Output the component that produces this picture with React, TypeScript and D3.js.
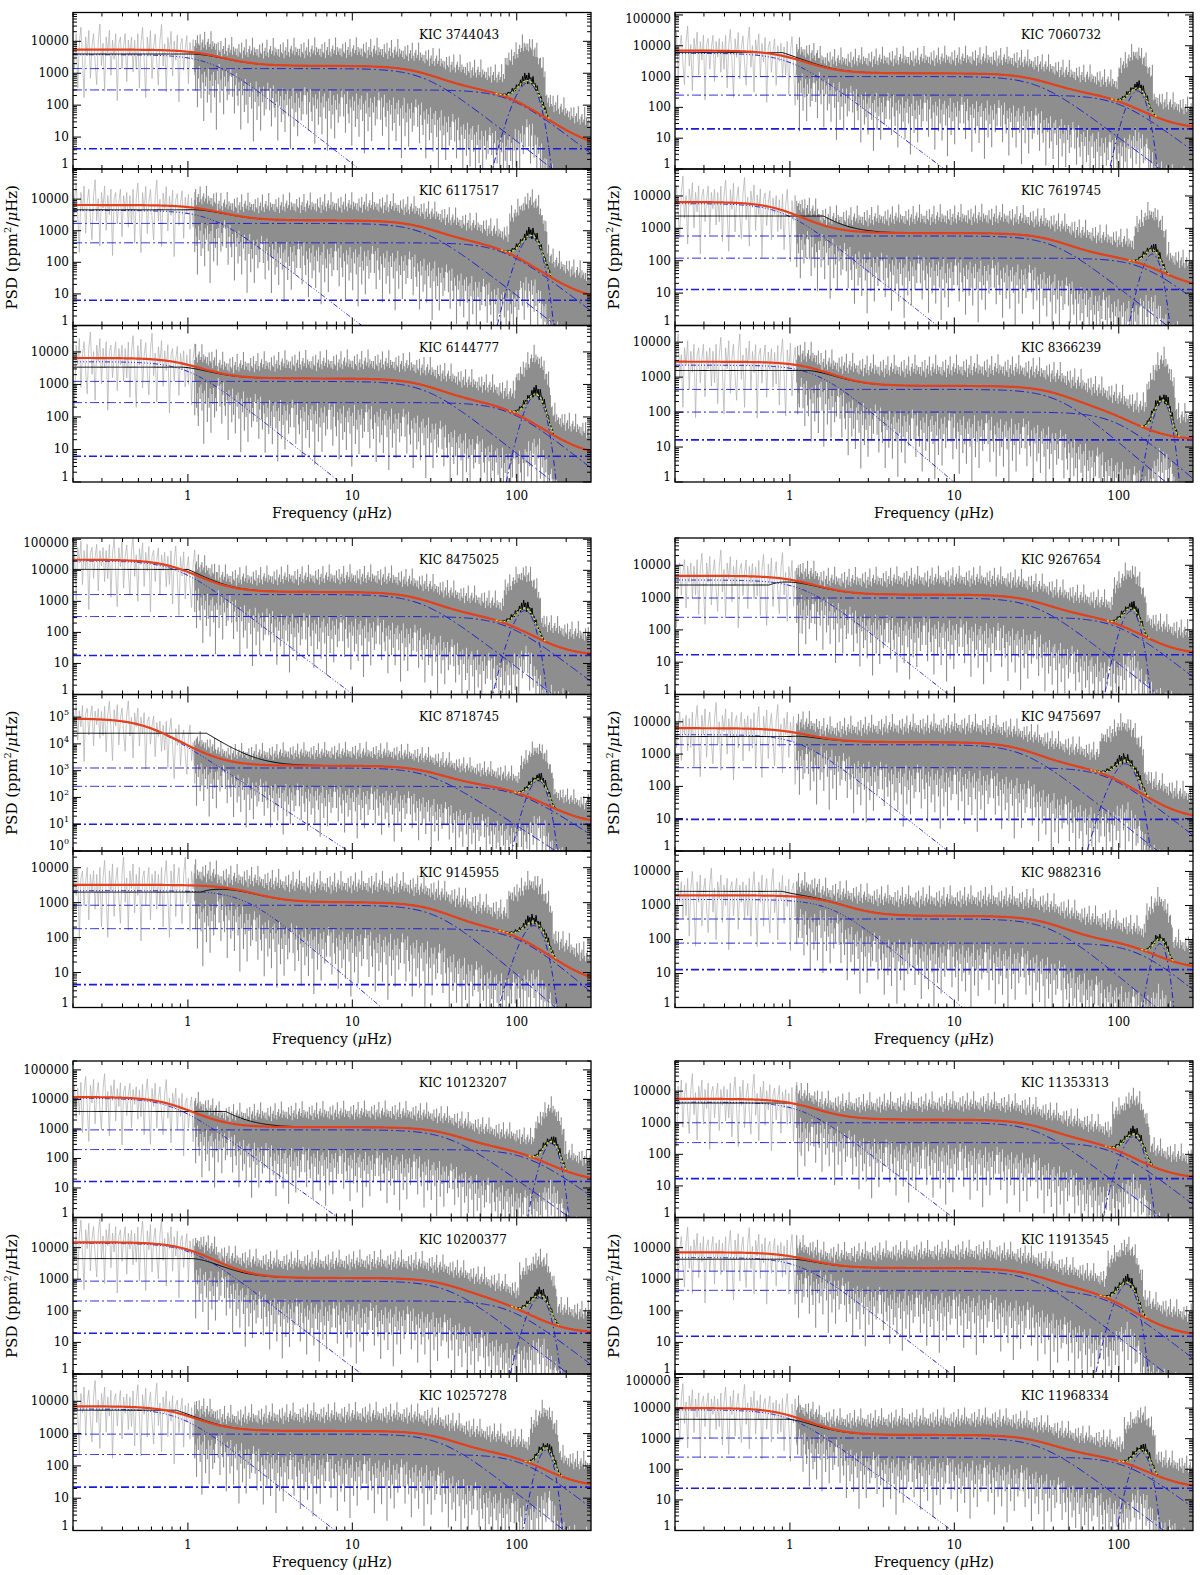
import React from 'react'
import * as d3 from 'd3'

// panel order: group by group, left column top->bottom then right column top->bottom
const kicIds = [
  'KIC 3744043', 'KIC 6117517', 'KIC 6144777', 'KIC 7060732', 'KIC 7619745', 'KIC 8366239',
  'KIC 8475025', 'KIC 8718745', 'KIC 9145955', 'KIC 9267654', 'KIC 9475697', 'KIC 9882316',
  'KIC 10123207', 'KIC 10200377', 'KIC 10257278', 'KIC 11353313', 'KIC 11913545', 'KIC 11968334',
]
const psdMax = [8e4, 9e4, 6.5e4, 1.2e5, 6.8e4, 3e4, 1.1e5, 7e5, 3e4, 7e4, 7e4, 4e4, 2e5, 9e4, 7e4, 9e4, 9e4, 1.3e5]

// fitted background components
const whiteNoise = [4.3, 6.3, 6.2, 20, 13, 16, 18, 10, 4.5, 17, 9.5, 13, 16.5, 19.5, 22, 17, 15.6, 24]
const lowAmp = [3800, 4400, 5000, 5700, 5800, 2200, 20000, 87000, 2200, 3500, 4000, 1500, 10900, 13700, 5800, 4450, 4840, 8700]
const lowFreq = [1.4, 1.4, 1.0, 1.0, 0.9, 1.45, 0.85, 0.55, 2.2, 1.2, 1.15, 1.8, 0.8, 1.05, 0.9, 1.2, 1.15, 1.0]
const granAmp = [1400, 1700, 1240, 1000, 580, 445, 1660, 1260, 840, 970, 1950, 400, 930, 870, 960, 1000, 1800, 1050]
const granFreq = [27, 27, 28, 32, 40, 42, 26, 29, 32, 31, 26, 38, 38, 38, 35, 32, 30, 33]
const fastAmp = [300, 415, 277, 250, 120, 100, 325, 260, 180, 245, 380, 78, 200, 205, 225, 235, 445, 250]
const fastFreq = [90, 82, 89, 100, 140, 95, 85, 100, 100, 98, 85, 130, 115, 89, 110, 92, 82, 110]
const modeHeight = [500, 630, 450, 340, 160, 200, 500, 420, 220, 380, 500, 75, 320, 260, 300, 360, 680, 350]
const numax = [117, 122, 130, 130, 160, 185, 112, 135, 127, 119, 110, 178, 162, 138, 150, 123, 112, 138]
const modeWidth = [13, 12.8, 12.5, 12.3, 14, 15, 11.5, 12, 15, 10.7, 13, 13, 13.4, 14, 12, 12.5, 11, 12]

// smoothed (black) spectrum: flat level at low frequency up to an edge
const blackLevel = [4000, 4600, 3400, 6000, 2400, 1550, 10700, 25000, 2000, 2450, 3500, 2600, 3900, 4500, 5300, 4200, 4300, 4300]
const blackEdge = [1.0, 1.0, 0.9, 0.9, 1.6, 1.3, 1.0, 1.3, 1.2, 0.75, 1.0, 0.9, 1.7, 1.05, 0.85, 1.0, 0.9, 1.0]
const modeJag = [1.0, 1.5, 0.8, 1.7, 0.9, 2.0, 1.1, 1.6, 0.75, 1.9, 1.2, 1.4, 0.85, 1.8, 1.0, 1.3, 0.8, 1.5, 0.95, 1.2]

// raw (grey) spectrum envelope, in dex relative to the full fit
const bandFreqs = [1.5, 2.5, 4, 10, 30, 80, 283]
const bandUpper = [0.0, 0.15, 0.22, 0.25, 0.28, 0.3, 0.35]
const bandLower = [-0.1, -0.45, -0.6, -0.7, -0.85, -1.1, -1.3]
const spikeDepth = [0.3, 0.9, 0.2, 1.4, 0.5, 0.1, 0.8, 1.1, 0.35, 0.6, 1.8, 0.25, 0.7, 0.4, 1.2, 0.15, 0.95, 0.5, 1.5, 0.3,
  0.65, 0.2, 1.0, 0.45, 2.0, 0.35, 0.75, 0.1, 1.3, 0.55, 0.85, 0.25, 1.6, 0.4, 0.7, 0.2, 1.1, 0.5, 0.9, 0.3, 0.05]
const spikeRise = [0.1, 0.3, 0.05, 0.45, 0.2, 0.15, 0.5, 0.0, 0.25, 0.35, 0.1, 0.6, 0.2, 0.05, 0.3, 0.4, 0.15, 0.25, 0.65, 0.1, 0.35, 0.2, 0.3]
const lowDex = [0.3, -0.6, 0.5, -1.2, 0.2, 0.7, -0.3, -1.5, 0.4, -0.2, 0.6, -0.9, 0.1, 0.5, -0.4, -1.1, 0.3, 0.8, -0.5, 0.2,
  -1.3, 0.4, -0.1, 0.6, -0.8, 0.3, -0.3, 0.5, -1.6, 0.2, 0.4, -0.6, 0.1, 0.5, -1.0, 0.3, -0.2, 0.4, -0.7]

const xTickLabels = ['1', '10', '100']

const FMIN = 0.2
const FMAX = 283
const PW = 518
const PH = 156.5
const colLefts = [73, 675]
const groupTops = [12.5, 538, 1061]
const expLabelPanels = [7]

const BLUE = '#1c1cd8'
const GREY = '#969696'

const harvey = (a: number, fc: number, f: number) => a / (1 + Math.pow(f / fc, 4))

const freqGrid = d3.range(0, 501).map(i => FMIN * Math.pow(FMAX / FMIN, i / 500))
const denseGrid = d3.range(0, 151).map(i => 1.5 * Math.pow(FMAX / 1.5, i / 150))
const spikeGrid = d3.range(0, 440).map(i => 1.1 * Math.pow(FMAX / 1.1, i / 439))
const lowGrid = d3.range(0, 80).map(i => FMIN * Math.pow(1.15 / FMIN, i / 79))

function Panel({ p, x0, y0, showX }: { p: number; x0: number; y0: number; showX: boolean }) {
  const xs = d3.scaleLog().domain([FMIN, FMAX]).range([x0, x0 + PW])
  const ys = d3.scaleLog().domain([1, psdMax[p]]).range([y0 + PH, y0])
  const yy = (v: number) => ys(Math.max(v, 1e-3))
  const upAt = d3.scaleLog().domain(bandFreqs).range(bandUpper).clamp(true)
  const lowAt = d3.scaleLog().domain(bandFreqs).range(bandLower).clamp(true)

  const low = (f: number) => harvey(lowAmp[p], lowFreq[p], f)
  const gran = (f: number) => harvey(granAmp[p], granFreq[p], f)
  const fast = (f: number) => harvey(fastAmp[p], fastFreq[p], f)
  const gauss = (f: number) => modeHeight[p] * Math.exp(-((f - numax[p]) ** 2) / (2 * modeWidth[p] ** 2))
  const fit = (f: number) => low(f) + gran(f) + fast(f) + whiteNoise[p]
  const full = (f: number) => fit(f) + gauss(f)
  const inModes = (f: number, k: number) => Math.abs(f - numax[p]) < k * modeWidth[p]

  const line = (fn: (f: number) => number, grid = freqGrid) =>
    d3.line<number>().x(f => xs(f)).y(f => yy(fn(f)))(grid) || ''

  const band = d3.area<number>()
    .x(f => xs(f))
    .y0(f => yy(full(f) * Math.pow(10, lowAt(f))))
    .y1(f => yy(full(f) * Math.pow(10, upAt(f))))(denseGrid) || ''

  const spikes = spikeGrid.map((f, i) => {
    const ref = full(f)
    const d = spikeDepth[(i + p * 7) % spikeDepth.length]
    const r = spikeRise[(i + p * 5) % spikeRise.length] + (inModes(f, 2.5) ? 0.55 : 0)
    const lo = f < 1.5 ? -0.3 : lowAt(f)
    const hi = f < 1.5 ? 0.1 : upAt(f)
    return `M${xs(f).toFixed(2)},${yy(ref * Math.pow(10, lo - d)).toFixed(2)}V${yy(ref * Math.pow(10, hi + r)).toFixed(2)}`
  }).join('')

  const sparse = d3.line<number>()
    .x(f => xs(f))
    .y((f, i) => yy(full(f) * Math.pow(10, lowDex[(i + p * 3) % lowDex.length])))(lowGrid) || ''

  const edge = blackEdge[p]
  const edgeGap = blackLevel[p] - fit(edge)
  let jag = 0
  const blackFn = (f: number) => {
    if (f < edge) return blackLevel[p]
    const base = fit(f) + edgeGap * Math.pow(edge / f, 4)
    if (inModes(f, 3)) {
      jag++
      return base + gauss(f) * modeJag[jag % modeJag.length]
    }
    return base
  }
  const black = line(blackFn)

  const modeGrid = freqGrid.filter(f => inModes(f, 3.3))

  const xt = xs.ticks()
  const yt = ys.ticks()
  const isMajor = (v: number) => Math.abs(Math.log10(v) - Math.round(Math.log10(v))) < 1e-6
  const clipId = `clip${p}`
  const bottom = y0 + PH
  const useExp = expLabelPanels.includes(p)

  return (
    <g>
      <defs>
        <clipPath id={clipId}>
          <rect x={x0} y={y0} width={PW} height={PH} />
        </clipPath>
      </defs>
      <g clipPath={`url(#${clipId})`}>
        <path d={sparse} stroke="#adadad" strokeWidth={0.7} fill="none" />
        <path d={band} fill={GREY} stroke="none" />
        <path d={spikes} stroke="#8e8e8e" strokeWidth={1.1} fill="none" />
        <path d={line(low)} stroke={BLUE} strokeWidth={1} fill="none" strokeDasharray="5 2 1 2 1 2 1 2" />
        <path d={line(gran)} stroke={BLUE} strokeWidth={1} fill="none" strokeDasharray="9 3 2 3" />
        <path d={line(fast)} stroke={BLUE} strokeWidth={1} fill="none" strokeDasharray="9 3 2 3" />
        <path d={line(() => whiteNoise[p])} stroke={BLUE} strokeWidth={1.6} fill="none" strokeDasharray="8 3 2 3" />
        <path d={line(gauss)} stroke={BLUE} strokeWidth={1} fill="none" strokeDasharray="6 3 1.5 3" />
        <path d={black} stroke="#000" strokeWidth={1} fill="none" />
        <path d={line(fit)} stroke="#e4401c" strokeWidth={2.2} fill="none" />
        <path d={line(full, modeGrid)} stroke="#c8f03c" strokeWidth={1.2} fill="none" strokeDasharray="2 2" />
      </g>
      <rect x={x0} y={y0} width={PW} height={PH} fill="none" stroke="#000" strokeWidth={1.3} />
      {xt.map((v, i) => {
        const L = isMajor(v) ? 8 : 4
        const x = xs(v)
        return (
          <g key={'x' + i} stroke="#000" strokeWidth={1}>
            <line x1={x} x2={x} y1={bottom} y2={bottom - L} />
            <line x1={x} x2={x} y1={y0} y2={y0 + L} />
          </g>
        )
      })}
      {yt.map((v, i) => {
        const L = isMajor(v) ? 8 : 4
        const y = ys(v)
        return (
          <g key={'y' + i} stroke="#000" strokeWidth={1}>
            <line x1={x0} x2={x0 + L} y1={y} y2={y} />
            <line x1={x0 + PW} x2={x0 + PW - L} y1={y} y2={y} />
          </g>
        )
      })}
      {yt.filter(isMajor).map((v, i) => {
        let y = ys(v)
        if (bottom - y < 6) y -= 5
        if (y - y0 < 6) y += 4
        const e = Math.round(Math.log10(v))
        return (
          <text key={'yl' + i} x={x0 - 4} y={y} textAnchor="end" dominantBaseline="central" fontSize={12}>
            {useExp ? (
              <>10<tspan dy={-5} fontSize={8}>{e}</tspan></>
            ) : String(v)}
          </text>
        )
      })}
      <text x={x0 + 346} y={y0 + 26} fontSize={12}>{kicIds[p]}</text>
      {showX && xTickLabels.map(t => (
        <text key={t} x={xs(+t)} y={bottom + 18} textAnchor="middle" fontSize={12}>{t}</text>
      ))}
    </g>
  )
}

export default function App() {
  const panels: React.ReactNode[] = []
  const labels: React.ReactNode[] = []
  groupTops.forEach((gt, g) => {
    colLefts.forEach((cx, c) => {
      for (let r = 0; r < 3; r++) {
        const p = g * 6 + c * 3 + r
        panels.push(<Panel key={p} p={p} x0={cx} y0={gt + r * PH} showX={r === 2} />)
      }
      const midY = gt + 1.5 * PH
      const lx = cx - 56
      labels.push(
        <text key={`yl${g}${c}`} transform={`translate(${lx},${midY}) rotate(-90)`} textAnchor="middle" fontSize={15}>
          PSD (ppm<tspan dy={-6} fontSize={10}>2</tspan><tspan dy={6}>/</tspan><tspan fontStyle="italic">μ</tspan>Hz)
        </text>,
        <text key={`xl${g}${c}`} x={cx + PW / 2} y={gt + 3 * PH + 36} textAnchor="middle" fontSize={14}>
          Frequency (<tspan fontStyle="italic">μ</tspan>Hz)
        </text>
      )
    })
  })
  return (
    <svg width={1200} height={1575} fontFamily="'DejaVu Serif', serif"
      style={{ position: 'absolute', left: 0, top: 0, background: '#fff' }}>
      {panels}
      {labels}
    </svg>
  )
}
